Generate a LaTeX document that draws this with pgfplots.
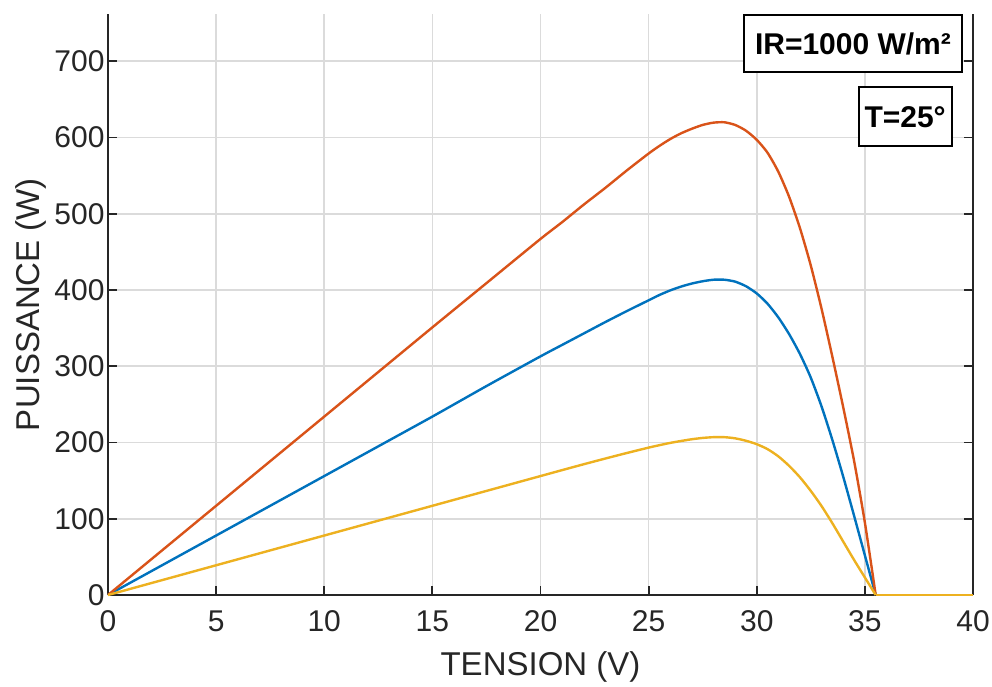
\documentclass[border=0pt]{standalone}
\usepackage{fontspec}
\setmainfont{Liberation Sans}
\usepackage{pgfplots}
\pgfplotsset{compat=1.18}

\definecolor{mblue}{rgb}{0,0.447,0.741}
\definecolor{morange}{rgb}{0.85,0.325,0.098}
\definecolor{myellow}{rgb}{0.929,0.694,0.125}
\definecolor{axgray}{rgb}{0.15,0.15,0.15}

\begin{document}
\begin{tikzpicture}
\begin{axis}[
    scale only axis,
    width=865pt, height=581pt,
    xmin=0, xmax=40, ymin=0, ymax=762,
    xtick={0,5,...,40}, ytick={0,100,...,700},
    axis x line*=bottom, axis y line*=box,
    axis line style={-, draw=axgray, line width=1.8pt},
    tick style={draw=axgray, line width=1.8pt},
    tick align=inside, major tick length=9pt,
    grid=major, grid style={draw=black!14, line width=1.6pt},
    /pgf/number format/assume math mode=true,
    ticklabel style={font=\fontsize{30}{30}\selectfont, text=axgray},
    xticklabel style={yshift=-12pt},
    xlabel={TENSION (V)}, ylabel={PUISSANCE (W)},
    label style={font=\fontsize{33}{33}\selectfont, text=axgray},
    xlabel style={at={(axis description cs:0.5,-0.1246)}, anchor=center},
    ylabel style={at={(axis description cs:-0.089,0.5)}, anchor=center},
    clip=false,
    every axis plot/.append style={line width=2.4pt, line join=round},
]
\coordinate (sw) at (rel axis cs:0,0);
\coordinate (ne) at (rel axis cs:1,1);

% P-V, tension in V, puissance in W
\addplot[mblue, smooth, tension=0.4] coordinates {
(0,0)(2.5,39)(5,78)(7.5,117)(10,156)(12.5,195)(15,234)(17.5,274)(20,313)
(21,328)(22,343)(23,358)(24,372.5)(25,386.5)(25.5,393.5)(26,399.5)(26.5,404.5)(27,408.5)
(27.5,411.5)(28,413.5)(28.5,413.5)(29,411)(29.5,405)(30,395.5)(30.5,382)(31,364)
(31.5,342)(32,316)(32.5,285)(33,247)(33.5,203)(34,155)(34.5,104)(35,52)
(35.5,0)};
\addplot[mblue] coordinates {(35.5,0)(40,0)};

\addplot[morange, smooth, tension=0.4] coordinates {
(0,0)(2.5,58.5)(5,117)(7.5,175.5)(10,234)(12.5,292.5)(15,351)(17.5,409)(20,467)
(21,489)(22,512)(23,534)(24,557)(25,579)(25.5,589)(26,598)(26.5,605.5)(27,611.5)
(27.5,616.5)(28,619.5)(28.5,620)(29,616.5)(29.5,609)(30,597)(30.5,580)(31,555)
(31.5,522)(32,481)(32.5,432)(33,375)(33.5,312)(34,246)(34.5,176)(35,95)
(35.5,0)};
\addplot[morange] coordinates {(35.5,0)(40,0)};

\addplot[myellow, smooth, tension=0.4] coordinates {
(0,0)(2.5,19.5)(5,39)(7.5,58.5)(10,78)(12.5,97.5)(15,117)(17.5,136.5)(20,156)
(21,163.8)(22,171.5)(23,179)(24,186.3)(25,193.3)(25.5,196.5)(26,199.5)(26.5,202)(27,204.3)
(27.5,206)(28,207)(28.5,207)(29,205.5)(29.5,202.3)(30,197.8)(30.5,191.3)(31,181.8)
(31.5,169.3)(32,154.3)(32.5,136.5)(33,116.5)(33.5,94)(34,70)(34.5,46)(35,23)
(35.5,0)};
\addplot[myellow] coordinates {(35.5,0)(40,0)};

\node[draw=black, line width=2pt, fill=white, inner sep=0pt,
      minimum width=218pt, minimum height=57pt,
      font=\fontsize{30}{30}\selectfont\bfseries]
  at (axis cs:34.45,722.7) {IR=1000 W/m²};
\node[draw=black, line width=2pt, fill=white, inner sep=0pt,
      minimum width=93pt, minimum height=59pt,
      font=\fontsize{30}{30}\selectfont\bfseries]
  at (axis cs:36.86,627) {T=25°};
\end{axis}
\pgfresetboundingbox
\path ([xshift=-108pt,yshift=-91pt]sw) rectangle ([xshift=19pt,yshift=14pt]ne);
\end{tikzpicture}
\end{document}
